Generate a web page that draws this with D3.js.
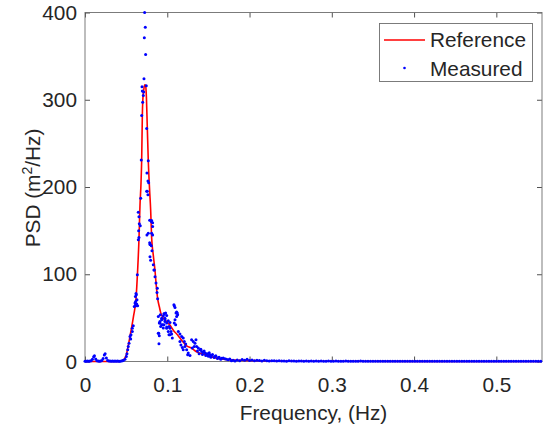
<!DOCTYPE html>
<html><head><meta charset="utf-8">
<script src="https://cdn.jsdelivr.net/npm/d3@7/dist/d3.min.js"></script>
<style>body{margin:0;background:#fff;} text{font-family:"Liberation Sans",Arial,sans-serif;fill:#262626;}</style>
</head><body><svg id="c" width="548" height="431"></svg>
<script>
// ---- data ----
const xTicks = [0, 0.1, 0.2, 0.3, 0.4, 0.5];
const yTicks = [0, 100, 200, 300, 400];
const xLabel = "Frequency, (Hz)";
const legendLabels = ["Reference", "Measured"];

// reference spectrum (red line)
const refFreq = [0,0.02,0.04,0.0425,0.045,0.0478,0.05,0.0519,0.0555,0.059,0.062,0.064,0.0656,0.0668,0.0681,0.0689,0.0697,0.0703,0.0715,0.0728,0.0737,0.0745,0.0757,0.0769,0.0785,0.0798,0.081,0.083,0.0851,0.0871,0.0883,0.0903,0.092,0.095,0.1,0.103,0.108,0.111,0.117,0.1236,0.13,0.1357,0.146,0.155,0.168,0.18,0.2,0.25,0.3,0.4,0.554];
const refPSD  = [0,0,0.05,0.3,1,3,7,15,33,52,72,105,140,178,205,231,282,300,312,317,316,306,269,231,197,174,142,122,104,82,72,63,56,50,45,42,35,32,25,18,15,11,8,5,2.5,1.8,1.2,0.5,0.25,0.1,0.05];

// measured spectrum (blue dots): low-frequency part
const lowFreq = [0,0.0015,0.003,0.0045,0.006,0.0075,0.009,0.0105,0.0115,0.013,0.0145,0.016,0.0175,0.019,0.0205,0.022,0.0235,0.0245,0.026,0.0275,0.029,0.0305,0.032,0.0335,0.035,0.0365,0.038,0.0395,0.041,0.0425,0.044,0.0455];
const lowPSD  = [0.3,0.3,0.5,0.4,0.6,0.8,2.5,5.5,6.5,3,1,0.5,0.4,0.6,1.2,3.5,7.5,9,4,1.2,0.6,0.5,0.4,0.5,0.4,0.5,0.3,0.5,0.4,0.3,0.6,0.9];

// measured spectrum: peak region
const peakFreq = [0.0466,0.0486,0.0502,0.051,0.0519,0.0526,0.0535,0.0547,0.0555,0.0559,0.0575,0.0575,0.0587,0.0599,0.0608,0.0612,0.0616,0.0616,0.062,0.062,0.0624,0.0628,0.0632,0.0636,0.064,0.0648,0.0648,0.0652,0.0656,0.0656,0.066,0.0672,0.0677,0.0684,0.0689,0.0693,0.0697,0.0701,0.0709,0.0713,0.0717,0.0721,0.0725,0.0733,0.0737,0.0745,0.075,0.075,0.0753,0.0753,0.0757,0.0765,0.0765,0.0769,0.0769,0.0774,0.0786,0.0786,0.079,0.079,0.0794,0.0798,0.0806,0.0806,0.081,0.081,0.0814,0.0822,0.0822,0.0822,0.083,0.0838,0.0842,0.0851,0.0863,0.0875,0.0879,0.0883,0.0891,0.0891,0.0896,0.0899,0.0903,0.0903,0.0911,0.0911,0.0915,0.092,0.0932,0.0932,0.0932,0.0944,0.0952,0.0952,0.096,0.096,0.0964,0.0972,0.0972,0.0972,0.098,0.0993,0.0993,0.0993,0.0993,0.1012,0.1012,0.1021,0.1021,0.1033,0.1033,0.1033,0.1045,0.1053,0.1061,0.1081,0.1085,0.1085,0.1094,0.1094,0.1102,0.1106,0.1114,0.1114,0.1122,0.1126,0.1134,0.1154,0.1154,0.1166,0.1175,0.1183,0.1194,0.1194,0.1207,0.1215,0.1224,0.1236,0.1248,0.1255,0.1276,0.1296,0.1304,0.1316,0.1328,0.1337,0.1349,0.1357,0.1367,0.1377,0.1387,0.1397,0.1408,0.1418,0.1428,0.1437,0.1448,0.1458,0.1468,0.1479,0.1491,0.15,0.151,0.1519,0.153,0.1539,0.155,0.157,0.1579,0.159,0.161,0.162,0.163,0.165,0.1661,0.168,0.1701,0.172,0.1741,0.176,0.178,0.18,0.1823];
const peakPSD  = [1.1,2.7,5.7,8.8,13.4,17.2,21,28.7,25.7,30.6,38,34.4,41,63,67,74.5,68.8,65,78,64,76.4,66,70.7,99.4,63.8,171,139.5,150,166,142,158,155.5,187,231,282,315,310,297,305,309,324,371,400,383,352,316,267,195,216,145,195,207,191,230,147,205,162,136,120,134,134,116,160.5,132.6,161.6,147,127,159,154.7,145,111,105,105,97,90,79,84,72,51.6,32.5,32.5,20.3,29.5,44,44,45.8,53.5,40,49.7,42,47.8,42,52.4,38.3,42,54.7,54.7,47.9,45.8,49.7,55.5,44,38,52.7,39.4,34.4,46.6,30.6,40,44.7,38,30.6,34.4,31.4,26.8,65,64,44,62,47.8,42,55.5,56.6,51.6,55.5,53.5,34.4,31.4,23,19,28.7,16,26.8,13.4,22.9,17.2,20,13.4,7.7,9.6,6.9,24.9,15.4,23,17.2,21,24.9,17.2,12,15.4,9,13.4,14,11.5,8,10.7,12,9.6,7,9,8.5,6,10,7.7,5,6.9,8,4.5,5.7,6.5,3.5,4.6,5,2.5,3.8,4,3.1,2.5,2,3,0.8,1.5,0.5];

// measured spectrum: high-frequency tail
const tailFreq = [0.185,0.188,0.191,0.194,0.197,0.2,0.203,0.206,0.209,0.212,0.215,0.218,0.221,0.224,0.227,0.23,0.233,0.236,0.239,0.242,0.245,0.248,0.251,0.254,0.257,0.26,0.263,0.266,0.269,0.272,0.275,0.278,0.281,0.284,0.287,0.29,0.293,0.296,0.299,0.302,0.305,0.308,0.311,0.314,0.317,0.32,0.323,0.326,0.329,0.332,0.335,0.338,0.341,0.344,0.347,0.35,0.353,0.356,0.359,0.362,0.365,0.368,0.371,0.374,0.377,0.38,0.383,0.386,0.389,0.392,0.395,0.398,0.401,0.404,0.407,0.41,0.413,0.416,0.419,0.422,0.425,0.428,0.431,0.434,0.437,0.44,0.443,0.446,0.449,0.452,0.455,0.458,0.461,0.464,0.467,0.47,0.473,0.476,0.479,0.482,0.485,0.488,0.491,0.494,0.497,0.5,0.503,0.506,0.509,0.512,0.515,0.518,0.521,0.524,0.527,0.53,0.533,0.536,0.539,0.542,0.545,0.548,0.551,0.554];
const tailPSD  = [1.6,1.0,2.2,1.4,2.6,1.2,1.8,0.9,1.5,1.1,0.7,1.3,0.9,0.6,1.0,0.8,0.5,0.9,0.6,0.7,0.4,0.8,0.5,0.6,0.4,0.7,0.5,0.3,0.6,0.4,0.5,0.3,0.6,0.4,0.5,0.3,0.4,0.6,0.3,0.4,0.5,0.3,0.4,0.3,0.5,0.3,0.4,0.2,0.4,0.3,0.5,0.3,0.2,0.4,0.3,0.2,0.4,0.3,0.2,0.3,0.4,0.2,0.3,0.2,0.4,0.3,0.2,0.3,0.2,0.4,0.2,0.3,0.2,0.3,0.2,0.4,0.2,0.3,0.2,0.3,0.2,0.2,0.3,0.2,0.3,0.2,0.2,0.3,0.2,0.2,0.3,0.2,0.2,0.3,0.2,0.2,0.3,0.2,0.2,0.3,0.2,0.2,0.3,0.2,0.2,0.3,0.2,0.2,0.3,0.2,0.2,0.3,0.2,0.2,0.3,0.2,0.2,0.3,0.2,0.2,0.3,0.2,0.2,0.3];

// ---- layout ----
const L = 85, R = 542, T = 12.5, B = 361.5;
const svg = d3.select("#c");
const x = d3.scaleLinear().domain([0, 0.5555]).range([L, R]);
const y = d3.scaleLinear().domain([0, 400]).range([B, T]);
const axisCol = "#262626";
const fs = "20.8px";

// axes (box with inward ticks)
const gx = svg.append("g").attr("transform", `translate(0,${B})`)
  .call(d3.axisBottom(x).tickValues(xTicks).tickSizeInner(-5).tickSizeOuter(0).tickPadding(15.5).tickFormat(d => d === 0 ? "0" : d3.format(".1f")(d)));
const gxt = svg.append("g").attr("transform", `translate(0,${T})`)
  .call(d3.axisTop(x).tickValues(xTicks).tickSizeInner(-5).tickSizeOuter(0).tickFormat(""));
const gy = svg.append("g").attr("transform", `translate(${L},0)`)
  .call(d3.axisLeft(y).tickValues(yTicks).tickSizeInner(-5).tickSizeOuter(0).tickPadding(8));
const gyr = svg.append("g").attr("transform", `translate(${R},0)`)
  .call(d3.axisRight(y).tickValues(yTicks).tickSizeInner(-5).tickSizeOuter(0).tickFormat(""));
[gx, gxt, gy, gyr].forEach(g => {
  g.select(".domain").remove();
  g.selectAll(".tick line").attr("stroke", axisCol).attr("stroke-width", 0.8);
  g.selectAll(".tick text").attr("fill", axisCol).style("font-size", fs).style("font-family", '"Liberation Sans",Arial,sans-serif');
});
svg.append("rect").attr("x", L).attr("y", T).attr("width", R - L).attr("height", B - T)
  .attr("fill", "none").attr("stroke", "#6e6e6e").attr("stroke-width", 0.9);

// reference line
const line = d3.line().x((d, i) => x(refFreq[i])).y(d => y(d)).curve(d3.curveMonotoneX);
svg.append("path").datum(refPSD).attr("d", line).attr("fill", "none")
  .attr("stroke", "#ff0000").attr("stroke-width", 1.6);

// measured dots
const meas = [];
lowFreq.forEach((f, i) => meas.push([f, lowPSD[i]]));
peakFreq.forEach((f, i) => meas.push([f, peakPSD[i]]));
tailFreq.forEach((f, i) => meas.push([f, tailPSD[i]]));
svg.append("g").selectAll("circle").data(meas).join("circle")
  .attr("cx", d => x(d[0])).attr("cy", d => y(d[1])).attr("r", 1.5).attr("fill", "#0000ff");

// labels
svg.append("text").attr("x", (L + R) / 2) .attr("y", 420).attr("text-anchor", "middle")
  .style("font-size", fs).text(xLabel);
const yl = svg.append("text").attr("transform", "translate(40,188) rotate(-90)")
  .attr("text-anchor", "middle").style("font-size", fs);
yl.append("tspan").text("PSD (m");
yl.append("tspan").attr("dy", -8).style("font-size", "14px").text("2");
yl.append("tspan").attr("dy", 8).text("/Hz)");

// legend
const lg = svg.append("g");
lg.append("rect").attr("x", 379.5).attr("y", 23.5).attr("width", 153).attr("height", 58)
  .attr("fill", "#fff").attr("stroke", "#6e6e6e").attr("stroke-width", 0.9);
lg.append("line").attr("x1", 384).attr("x2", 425).attr("y1", 40).attr("y2", 40)
  .attr("stroke", "#ff0000").attr("stroke-width", 1.6);
lg.append("circle").attr("cx", 404.5).attr("cy", 68).attr("r", 1.3).attr("fill", "#0000ff");
lg.append("text").attr("x", 430).attr("y", 47).style("font-size", fs).text(legendLabels[0]);
lg.append("text").attr("x", 430).attr("y", 75.5).style("font-size", fs).text(legendLabels[1]);
</script></body></html>
